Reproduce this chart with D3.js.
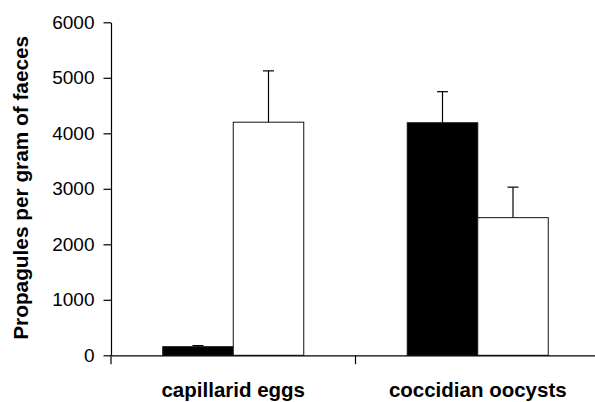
<!DOCTYPE html>
<html>
<head>
<meta charset="utf-8">
<script src="https://cdn.jsdelivr.net/npm/d3@7"></script>
<style>
html,body{margin:0;padding:0;background:#fff;}
svg{display:block;}
</style>
</head>
<body>
<svg id="chart" width="595" height="402"></svg>
<script>
// ---- data ----
const categories = ["capillarid eggs", "coccidian oocysts"];
const seriesNames = ["filled", "open"];
const filledValues = [155, 4190];
const openValues = [4200, 2480];
const filledErrors = [20, 560];
const openErrors = [925, 550];
const yTicks = [0, 1000, 2000, 3000, 4000, 5000, 6000];
const yLabel = "Propagules per gram of faeces";

(function () {
const svg = d3.select("#chart");
const mLeft = 111, mRight = 600, mTop = 22.3, mBottom = 355.3;

const x = d3.scaleBand().domain(categories).range([mLeft, mRight]).padding(0);
const xs = d3.scaleBand().domain(seriesNames).range([0, x.bandwidth()])
  .paddingInner(0).paddingOuter(0.734);
const y = d3.scaleLinear().domain([0, 6000]).range([mBottom, mTop]);

const rows = categories.map((c, i) => ({
  cat: c,
  bars: [
    {s: "filled", v: filledValues[i], e: filledErrors[i], fill: "#000"},
    {s: "open", v: openValues[i], e: openErrors[i], fill: "#fff"}
  ]
}));

const g = svg.append("g");
const groups = g.selectAll("g.cat").data(rows).join("g")
  .attr("transform", d => `translate(${x(d.cat)},0)`);

// error bars (drawn under bars)
groups.selectAll("line.err").data(d => d.bars).join("line")
  .attr("x1", d => xs(d.s) + xs.bandwidth() / 2)
  .attr("x2", d => xs(d.s) + xs.bandwidth() / 2)
  .attr("y1", d => y(d.v))
  .attr("y2", d => y(d.v + d.e))
  .attr("stroke", "#000").attr("stroke-width", 1.2);
groups.selectAll("line.cap").data(d => d.bars).join("line")
  .attr("x1", d => xs(d.s) + xs.bandwidth() / 2 - 5.5)
  .attr("x2", d => xs(d.s) + xs.bandwidth() / 2 + 5.5)
  .attr("y1", d => y(d.v + d.e))
  .attr("y2", d => y(d.v + d.e))
  .attr("stroke", "#000").attr("stroke-width", 1.2);

groups.selectAll("rect").data(d => d.bars).join("rect")
  .attr("x", d => xs(d.s))
  .attr("width", xs.bandwidth())
  .attr("y", d => y(d.v))
  .attr("height", d => y(0) - y(d.v))
  .attr("fill", d => d.fill)
  .attr("stroke", "#111").attr("stroke-width", 1);

// y axis
const yAxis = d3.axisLeft(y).tickValues(yTicks).tickFormat(d3.format("d"))
  .tickSizeInner(7.5).tickSizeOuter(0).tickPadding(9);
const ya = svg.append("g").attr("transform", `translate(${mLeft},0)`).call(yAxis);
ya.selectAll("path,line").attr("stroke", "#000").attr("stroke-width", 1.2);
ya.selectAll("text").attr("font-family", "'Liberation Sans', Arial, sans-serif")
  .attr("font-size", 19).attr("fill", "#000");

// x axis
const xAxis = d3.axisBottom(x).tickSizeInner(0).tickSizeOuter(0).tickFormat("");
const xa = svg.append("g").attr("transform", `translate(0,${mBottom})`).call(xAxis);
xa.selectAll("path").attr("stroke", "#000").attr("stroke-width", 1.2);
xa.selectAll(".tick").remove();
// boundary ticks between categories
const bounds = [mLeft].concat(categories.map(c => x(c) + x.bandwidth()));
xa.selectAll("line.bnd").data(bounds).join("line")
  .attr("x1", d => d).attr("x2", d => d)
  .attr("y1", 0).attr("y2", 9)
  .attr("stroke", "#000").attr("stroke-width", 1.2);

// category labels
svg.append("g").selectAll("text").data(categories).join("text")
  .attr("x", d => x(d) + x.bandwidth() / 2)
  .attr("y", 397)
  .attr("text-anchor", "middle")
  .attr("font-family", "'Liberation Sans', Arial, sans-serif")
  .attr("font-weight", "bold")
  .attr("font-size", 20.5)
  .attr("fill", "#000")
  .text(d => d);

// y label
svg.append("text")
  .attr("transform", `translate(28,${(mTop + mBottom) / 2 - 1}) rotate(-90)`)
  .attr("text-anchor", "middle")
  .attr("font-family", "'Liberation Sans', Arial, sans-serif")
  .attr("font-weight", "bold")
  .attr("font-size", 20.8)
  .attr("fill", "#000")
  .text(yLabel);
})();
</script>
</body>
</html>
